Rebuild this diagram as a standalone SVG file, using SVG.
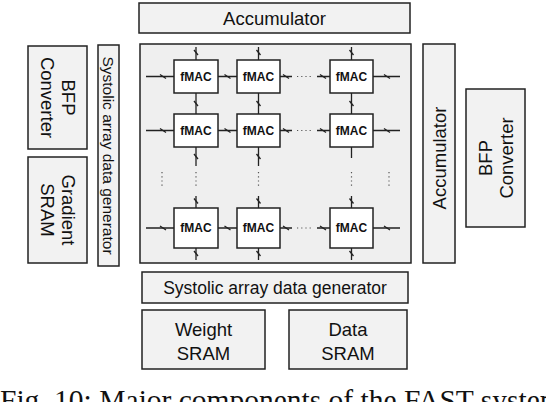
<svg xmlns="http://www.w3.org/2000/svg" width="546" height="402" viewBox="0 0 546 402">
<style>
.box{fill:#f2f2f2;stroke:#222;stroke-width:1.5}
.arr{fill:#efefef;stroke:#222;stroke-width:1.5}
.mac{fill:#fff;stroke:#222;stroke-width:1.5}
.t{font-family:"Liberation Sans",Arial,sans-serif;font-size:18.5px;fill:#111;text-anchor:middle}
.m{font-family:"Liberation Sans",Arial,sans-serif;font-size:12px;font-weight:bold;fill:#111;text-anchor:middle}
.cap{font-family:"Liberation Serif","Times New Roman",serif;font-size:29.5px;fill:#111}
.w{stroke:#222;stroke-width:1.3;fill:none}
.d{stroke:#555;stroke-width:1.2;stroke-dasharray:1.2 3;fill:none}
</style>
<rect width="546" height="402" fill="#fff"/>
<g id="acc-top"><rect class="box" x="139" y="3" width="271" height="30"/><text class="t" x="274.5" y="24.5">Accumulator</text></g>
<g id="bfp-left"><rect class="box" x="28" y="46" width="59" height="103"/><text class="t" transform="translate(57.5,97.5) rotate(90)"><tspan x="0" y="-4">BFP</tspan><tspan x="0" y="17">Converter</tspan></text></g>
<g id="gradient-sram"><rect class="box" x="28" y="157" width="59" height="106"/><text class="t" transform="translate(57.5,210) rotate(90)"><tspan x="0" y="-4">Gradient</tspan><tspan x="0" y="17">SRAM</tspan></text></g>
<g id="sys-left"><rect class="box" x="98" y="45" width="21" height="221"/><text class="t" style="font-size:15.5px" transform="translate(108.5,155.5) rotate(90)" y="5.5">Systolic array data generator</text></g>
<g id="array"><rect class="arr" x="140" y="44" width="271" height="219"/></g>
<g id="acc-right"><rect class="box" x="423" y="44" width="32" height="219"/><text class="t" transform="translate(439,158) rotate(-90)" y="6.5">Accumulator</text></g>
<g id="bfp-right"><rect class="box" x="466" y="89" width="59" height="138"/><text class="t" transform="translate(495.5,158) rotate(-90)"><tspan x="0" y="-4">BFP</tspan><tspan x="0" y="17">Converter</tspan></text></g>
<g id="sys-bottom"><rect class="box" x="142" y="272" width="266" height="31"/><text class="t" style="font-size:17.5px" x="275" y="294">Systolic array data generator</text></g>
<g id="weight-sram"><rect class="box" x="142" y="310" width="123" height="59"/><text class="t" x="203.5" y="336">Weight</text><text class="t" x="203.5" y="360">SRAM</text></g>
<g id="data-sram"><rect class="box" x="289" y="310" width="118" height="59"/><text class="t" x="348" y="336">Data</text><text class="t" x="348" y="360">SRAM</text></g>
<g id="connectors">
<path class="w" d="M146 76.5H174M218 76.5H237M280 76.5H292M317 76.5H330M373 76.5H400"/>
<path class="w" d="M146 130.5H174M218 130.5H237M280 130.5H292M317 130.5H330M373 130.5H400"/>
<path class="w" d="M146 228H174M218 228H237M280 228H292M317 228H330M373 228H400"/>
<path class="d" d="M297 76.5H313M297 130.5H313M297 228H313"/>
<path class="w" d="M160 74.5l6 4M224.5 74.5l6 4M283 74.5l6 4M320 74.5l6 4M384 74.5l6 4M160 128.5l6 4M224.5 128.5l6 4M283 128.5l6 4M320 128.5l6 4M384 128.5l6 4M160 226l6 4M224.5 226l6 4M283 226l6 4M320 226l6 4M384 226l6 4"/>
<path class="w" d="M196 47V60M196 93V114M196 147V166M196 196V208M196 248V260"/>
<path class="w" d="M258.5 47V60M258.5 93V114M258.5 147V166M258.5 196V208M258.5 248V260"/>
<path class="w" d="M351.5 47V60M351.5 93V114M351.5 147V158M351.5 196V208M351.5 248V260"/>
<path class="d" d="M196 172V188M258.5 172V188M351.5 172V188M162 172V188M389 172V188"/>
<path class="w" d="M194 50l4 5M194 101l4 5M194 154l4 5M194 198.5l4 5M194 251l4 5M256.5 50l4 5M256.5 101l4 5M256.5 154l4 5M256.5 198.5l4 5M256.5 251l4 5M349.5 50l4 5M349.5 101l4 5M349.5 198.5l4 5M349.5 251l4 5"/>
</g>
<g id="fmac-1-1"><rect class="mac" x="174" y="60" width="44" height="33"/><text class="m" x="196" y="80.5">fMAC</text></g>
<g id="fmac-1-2"><rect class="mac" x="237" y="60" width="43" height="33"/><text class="m" x="258.5" y="80.5">fMAC</text></g>
<g id="fmac-1-n"><rect class="mac" x="330" y="60" width="43" height="33"/><text class="m" x="351.5" y="80.5">fMAC</text></g>
<g id="fmac-2-1"><rect class="mac" x="174" y="114" width="44" height="33"/><text class="m" x="196" y="134.5">fMAC</text></g>
<g id="fmac-2-2"><rect class="mac" x="237" y="114" width="43" height="33"/><text class="m" x="258.5" y="134.5">fMAC</text></g>
<g id="fmac-2-n"><rect class="mac" x="330" y="114" width="43" height="33"/><text class="m" x="351.5" y="134.5">fMAC</text></g>
<g id="fmac-n-1"><rect class="mac" x="174" y="208" width="44" height="40"/><text class="m" x="196" y="232">fMAC</text></g>
<g id="fmac-n-2"><rect class="mac" x="237" y="208" width="43" height="40"/><text class="m" x="258.5" y="232">fMAC</text></g>
<g id="fmac-n-n"><rect class="mac" x="330" y="208" width="43" height="40"/><text class="m" x="351.5" y="232">fMAC</text></g>
<text class="cap" x="0" y="410">Fig. 10: Major components of the FAST system.</text>
</svg>
